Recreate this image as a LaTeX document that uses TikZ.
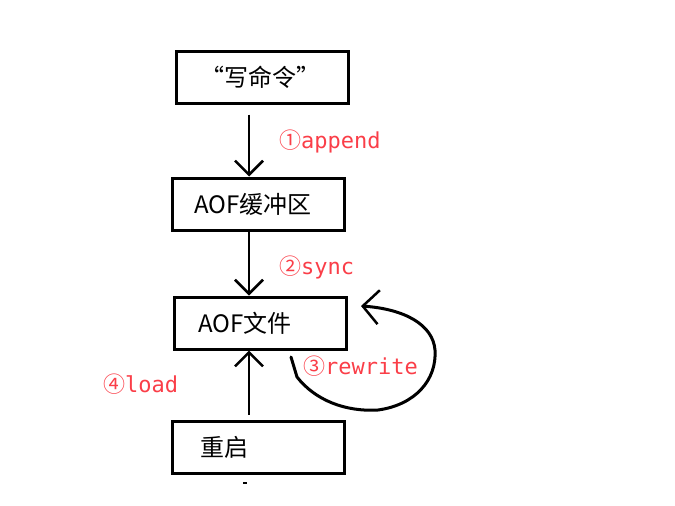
\documentclass[tikz,border=0pt]{standalone}
\usepackage{fontspec}
\setmainfont{Noto Sans CJK SC}
\newfontfamily\cjkfont{Noto Sans CJK SC}
\newfontfamily\labelfont{DejaVu Sans Mono}
\usetikzlibrary{arrows.meta,positioning}

\definecolor{labelred}{RGB}{250,62,72}
\tikzset{
  box/.style={draw, line width=3pt, minimum width=172pt, minimum height=52pt,
    text width=128pt, inner xsep=22pt, align=left,
    font=\fontsize{24}{28}\selectfont},
  barb/.style={-{Straight Barb[length=14pt,width=28pt,line width=2.5pt]}},
  flow/.style={line width=2.5pt, barb},
  steplabel/.style={text=labelred, anchor=west, inner sep=0pt,
    font=\fontsize{22}{24}\labelfont},
}

\begin{document}
\begin{tikzpicture}[x=1pt,y=-1pt]
  \useasboundingbox (0,0) rectangle (675,506);
  % boxes
  \node[box] (cmd) at (262,77) {\hspace*{2pt}“写命令”};
  \node[box] (buf) at (258,204) {AOF缓冲区};
  \node[box] (file) at (260,323) {\hspace*{2pt}AOF文件};
  \node[box] (restart) at (258,447) {\hspace*{6pt}重启};
  % arrows
  \coordinate (axis) at (249,0);
  \coordinate (cmdout) at ([yshift=-10pt]cmd.south -| axis);
  \coordinate (restartout) at ([yshift=5pt]restart.north -| axis);
  \draw[flow] (cmdout) -- (buf.north -| axis);
  \draw[flow] (buf.south -| axis) -- (file.north -| axis);
  \draw[flow] (restartout) -- (file.south -| axis);
  \draw[line width=1.5pt] (243,483) -- (247,483);
  % rewrite loop
  \coordinate (rwstart) at (291,357);
  \coordinate (rwend) at (361,306);
  \draw[line width=3pt, line cap=round, line join=round,
    -{Straight Barb[length=16pt,width=34pt,line width=2.5pt]}]
    (rwstart) -- (297,377) .. controls (315,400) and (345,412) .. (378,410)
    .. controls (415,405) and (437,380) .. (435,350)
    .. controls (433,325) and (405,309) .. (rwend);
  % labels
  \node[steplabel] (lappend) at (279,141) {{\cjkfont ①}append};
  \node[steplabel] (lsync) at (279,267) {{\cjkfont ②}sync};
  \node[steplabel] (lrewrite) at (303,366) {{\cjkfont ③}rewrite};
  \node[steplabel] (lload) at (103,384) {{\cjkfont ④}load};
\end{tikzpicture}
\end{document}
